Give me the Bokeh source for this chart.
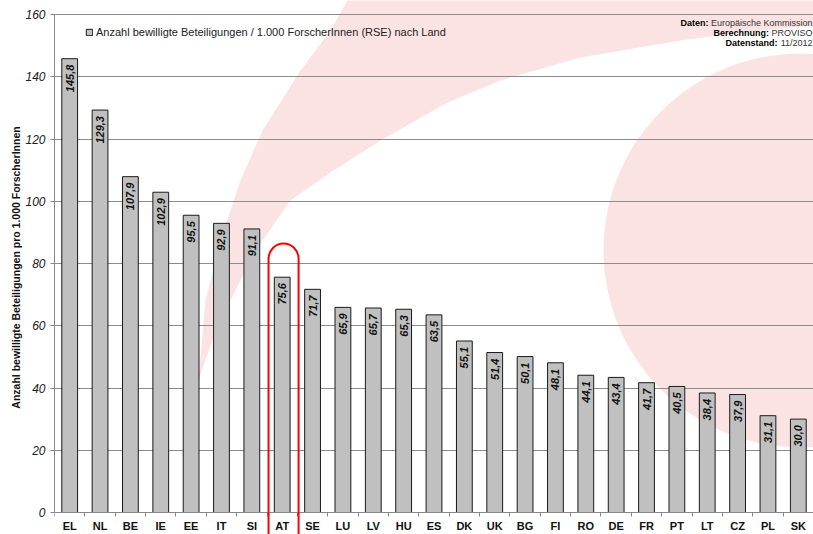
import numpy as np
from bokeh.plotting import figure
from bokeh.models import (Range1d, FixedTicker, BoxAnnotation, Legend, LegendItem, ColumnDataSource)
from bokeh.core.properties import value
from bokeh.embed import file_html
from bokeh.resources import INLINE

# ---- data ----
countries = ["EL", "NL", "BE", "IE", "EE", "IT", "SI", "AT", "SE", "LU", "LV", "HU", "ES",
             "DK", "UK", "BG", "FI", "RO", "DE", "FR", "PT", "LT", "CZ", "PL", "SK"]
values = [145.8, 129.3, 107.9, 102.9, 95.5, 92.9, 91.1, 75.6, 71.7, 65.9, 65.7, 65.3, 63.5,
          55.1, 51.4, 50.1, 48.1, 44.1, 43.4, 41.7, 40.5, 38.4, 37.9, 31.1, 30.0]
y_ticks = [0, 20, 40, 60, 80, 100, 120, 140, 160]
highlight = "AT"
series_label = "Anzahl bewilligte Beteiligungen / 1.000 ForscherInnen (RSE) nach Land"
y_title = "Anzahl bewilligte Beteiligungen pro 1.000 ForscherInnen"
source_bold = ["Daten:", "Berechnung:", "Datenstand:"]
source_text = ["Europäische Kommission", "PROVISO", "11/2012"]

n = len(countries)
pos = [i + 0.5 for i in range(n)]
labels = [f"{v:.1f}".replace(".", ",") for v in values]

W, H = 813, 534
ML, MT = 54, 14
Y0 = 512                      # canvas pixel of value 0
scale = (Y0 - MT) / 160.0     # pixels per unit
ymin = -(H - Y0) / scale      # frame runs below 0 so the highlight can run off the bottom
ymax = 160 + MT / scale       # and above 160 so the watermark reaches the top edge

p = figure(width=W, height=H, output_backend="svg", toolbar_location=None,
           x_range=Range1d(0, n), y_range=Range1d(ymin, ymax),
           min_border_left=ML, min_border_right=0, min_border_top=0, min_border_bottom=0)
p.outline_line_color = None
p.background_fill_color = "white"
p.border_fill_color = "white"

fw = W - ML
def dx(px):
    return (px - ML) / fw * n
def dy(py):
    return (Y0 - py) / scale

# decorative pink swoosh (background watermark)
outer = [(198, 380), (205, 300), (220, 240), (240, 180), (262, 130), (300, 70), (330, 30), (347, 0), (360, -20), (830, -20)]
inner = [(830, 23), (813, 25), (740, 32), (680, 40), (580, 57), (500, 80), (447, 102), (380, 140), (330, 172),
         (290, 200), (255, 250), (230, 300), (210, 345), (198, 380)]
pts = outer + inner
pink = "#fce3e3"
sw = p.patch([dx(a) for a, b in pts], [dy(b) for a, b in pts], fill_color=pink, line_color=None)
sw.level = "image"
cr = p.circle(x=[dx(800)], y=[dy(250)], radius=197, radius_units="screen", fill_color=pink, line_color=None)
cr.level = "image"

# bars
src = ColumnDataSource(dict(x=pos, top=values, lab=labels))
bars = p.vbar(x="x", top="top", width=0.52, source=src, fill_color="#c0c0c0",
              line_color="#1a1a1a", line_width=1)
p.text(x="x", y="top", text="lab", source=src, angle=np.pi / 2, text_align="right",
       text_baseline="middle", y_offset=6, text_font=value("Liberation Sans"),
       text_font_size="11px", text_font_style="bold italic", text_color="#111111")

# highlight AT
ia = countries.index(highlight)
p.add_layout(BoxAnnotation(left=ia + 0.05, right=ia + 1.04, top=86.4, bottom=ymin - 20,
                           fill_alpha=0, line_color="#ff0000", line_alpha=1, line_width=2,
                           border_radius=15))

# axes
p.xaxis.fixed_location = 0
p.xaxis.ticker = FixedTicker(ticks=pos, minor_ticks=list(range(n + 1)))
p.xaxis.major_label_overrides = {x: c for x, c in zip(pos, countries)}
p.xaxis.major_tick_line_color = None
p.xaxis.major_tick_out = 0
p.xaxis.major_tick_in = 0
p.xaxis.minor_tick_line_color = "#888888"
p.xaxis.minor_tick_out = 4
p.xaxis.minor_tick_in = 0
p.xaxis.axis_line_color = "#888888"
p.xaxis.major_label_standoff = 3
p.xaxis.major_label_text_font = "Liberation Sans"
p.xaxis.major_label_text_font_style = "bold"
p.xaxis.major_label_text_font_size = "11px"
p.xaxis.major_label_text_color = "#111111"
p.xgrid.grid_line_color = None

p.yaxis.bounds = (0, 160)
p.yaxis.ticker = FixedTicker(ticks=y_ticks, minor_ticks=[])
p.yaxis.axis_line_color = "#888888"
p.yaxis.major_tick_line_color = "#888888"
p.yaxis.major_tick_out = 4
p.yaxis.major_tick_in = 0
p.yaxis.major_label_standoff = 5
p.yaxis.major_label_text_font = "Liberation Sans"
p.yaxis.major_label_text_font_style = "italic"
p.yaxis.major_label_text_font_size = "12px"
p.yaxis.major_label_text_color = "#222222"
p.yaxis.axis_label = y_title
p.yaxis.axis_label_text_font = "Liberation Sans"
p.yaxis.axis_label_text_font_style = "bold"
p.yaxis.axis_label_text_font_size = "10.5px"
p.yaxis.axis_label_text_color = "#111111"
p.yaxis.axis_label_standoff = 0
p.ygrid.grid_line_color = "#8c8c8c"
p.ygrid.grid_line_width = 1

# legend
leg = Legend(items=[LegendItem(label=series_label, renderers=[bars])], location=(31, H - 39),
             orientation="vertical", margin=0, padding=0, spacing=0,
             glyph_width=8, glyph_height=8, label_height=14, label_standoff=3,
             label_text_font="Liberation Sans", label_text_font_size="11px",
             label_text_color="#222222", border_line_color=None, background_fill_alpha=0)
p.add_layout(leg)

# source note (values right-aligned at the edge, bold captions placed before them)
text_widths = [101.5, 41.0, 32.5]   # approx. rendered widths of the value texts at 9px
for k in range(3):
    p.text(x=[n], y=[160], text=[source_text[k]], x_offset=-1, y_offset=8 + 10 * k,
           text_align="right", text_baseline="middle", text_font=value("Liberation Sans"),
           text_font_size="9px", text_color="#333333")
    p.text(x=[n], y=[160], text=[source_bold[k]], x_offset=-1 - text_widths[k] - 2.5, y_offset=8 + 10 * k,
           text_align="right", text_baseline="middle", text_font=value("Liberation Sans"),
           text_font_size="9px", text_font_style="bold", text_color="#000000")

open("out.html", "w").write(file_html(p, INLINE))
